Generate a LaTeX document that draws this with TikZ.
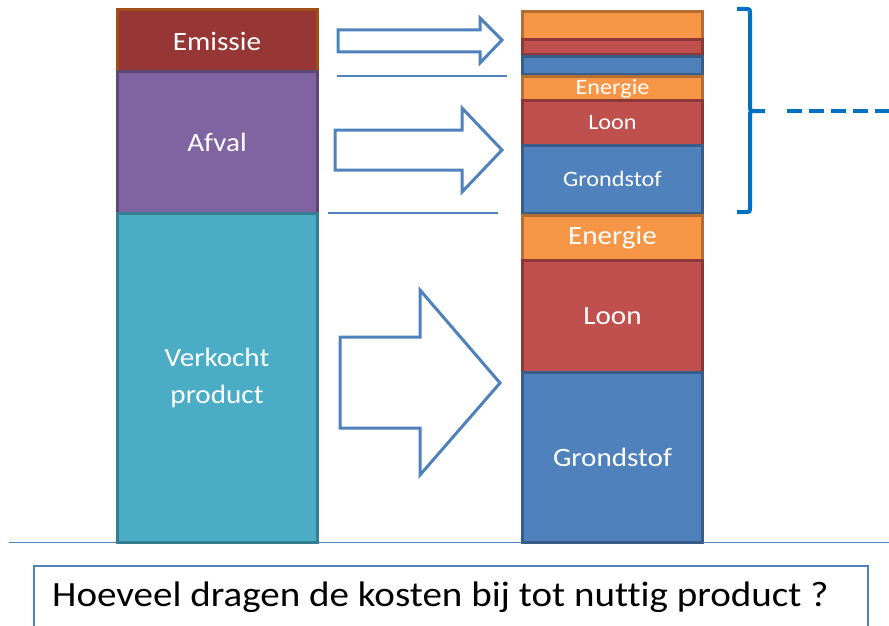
\documentclass[tikz,border=0pt]{standalone}
\usepackage{fontspec}
\setmainfont{Carlito}[FakeStretch=1.1, Ligatures=NoCommon]
\definecolor{emisred}{RGB}{150,55,53}
\definecolor{emisedge}{RGB}{160,78,22}
\definecolor{afvalpurple}{RGB}{128,100,162}
\definecolor{afvaledge}{RGB}{92,71,118}
\definecolor{verkochtcyan}{RGB}{75,172,198}
\definecolor{verkochtedge}{RGB}{53,125,145}
\definecolor{kostorange}{RGB}{247,150,70}
\definecolor{kostorangeedge}{RGB}{182,109,49}
\definecolor{kostred}{RGB}{192,80,77}
\definecolor{kostrededge}{RGB}{140,56,54}
\definecolor{kostblue}{RGB}{79,129,189}
\definecolor{kostblueedge}{RGB}{56,93,138}
\definecolor{bracecol}{RGB}{0,112,192}
\tikzset{
  blk/.style={draw, line width=3pt, text=white, inner sep=0pt, align=center},
  bigtxt/.style={font=\fontsize{26.5}{37}\selectfont},
  smalltxt/.style={font=\fontsize{22}{25}\selectfont},
  flowarrow/.style={draw=kostblue, line width=3pt, fill=white, line join=miter},
  sepline/.style={draw=kostblue, line width=1.5pt},
  bracepath/.style={draw=bracecol, line width=4pt}
}
\begin{document}
\begin{tikzpicture}[x=1pt, y=-1pt]
\useasboundingbox (0,0) rectangle (889,626);
% left column
\node[blk, bigtxt, fill=emisred, draw=emisedge, minimum width=200pt, minimum height=62pt] (emissie) at (217,41) {Emissie};
\node[blk, bigtxt, fill=afvalpurple, draw=afvaledge, minimum width=200pt, minimum height=141pt] (afval) at (217,142.5) {Afval};
\node[blk, bigtxt, fill=verkochtcyan, draw=verkochtedge, minimum width=200pt, minimum height=329pt] (verkocht) at (217,377.5) {Verkocht\\product};
% right column, top part
\node[blk, fill=kostorange, draw=kostorangeedge, minimum width=180pt, minimum height=28pt] (emisenergie) at (612.5,26) {};
\node[blk, fill=kostred, draw=kostrededge, minimum width=180pt, minimum height=15pt] (emisloon) at (612.5,47.5) {};
\node[blk, fill=kostblue, draw=kostblueedge, minimum width=180pt, minimum height=18pt] (afvalgrond) at (612.5,66) {};
\node[blk, smalltxt, fill=kostorange, draw=kostorangeedge, minimum width=180pt, minimum height=23pt] (afvalenergie) at (612.5,88.5) {Energie};
\node[blk, smalltxt, fill=kostred, draw=kostrededge, minimum width=180pt, minimum height=45pt] (afvalloon) at (612.5,122.5) {Loon};
\node[blk, smalltxt, fill=kostblue, draw=kostblueedge, minimum width=180pt, minimum height=68pt] (afvalgrondstof) at (612.5,179) {Grondstof};
% right column, bottom part
\node[blk, bigtxt, fill=kostorange, draw=kostorangeedge, minimum width=180pt, minimum height=45pt] (energie) at (612.5,237.5) {Energie};
\node[blk, bigtxt, fill=kostred, draw=kostrededge, minimum width=180pt, minimum height=112pt] (loon) at (612.5,316) {Loon};
\node[blk, bigtxt, fill=kostblue, draw=kostblueedge, minimum width=180pt, minimum height=170pt] (grondstof) at (612.5,457) {Grondstof};
% arrows
\draw[flowarrow] (338,30) -- (480,30) -- (480,18) -- (502,40) -- (480,63) -- (480,52) -- (338,52) -- cycle;
\draw[flowarrow] (335,130) -- (462,130) -- (462,108) -- (502,150) -- (462,192) -- (462,170) -- (335,170) -- cycle;
\draw[flowarrow] (340,337) -- (420,337) -- (420,290) -- (500,383) -- (420,475) -- (420,428) -- (340,428) -- cycle;
% separators
\draw[sepline] (337,76) -- (507,76);
\draw[sepline] (328,213) -- (498,213);
\draw[sepline] (9,542.5) -- (117,542.5);
\draw[sepline] (317,542.5) -- (522,542.5);
\draw[sepline] (703,542.5) -- (889,542.5);
% brace
\draw[bracepath] (737,9) -- (745,9) .. controls (750,9) .. (750,14) -- (750,106) .. controls (750,111) .. (756,111) -- (765,111);
\draw[bracepath] (756,111) .. controls (750,111) .. (750,116) -- (750,207) .. controls (750,212) .. (745,212) -- (737,212);
\draw[bracepath, dash pattern=on 15pt off 7pt] (787,111) -- (889,111);
% question
\node[draw=kostblue, line width=2pt, anchor=north west, minimum width=834pt, minimum height=100pt, inner sep=0pt] (vraagbox) at (33,565) {};
\node[anchor=base west, inner sep=0pt, font=\fontsize{35.5}{40}\selectfont] (vraag) at (52,606) {Hoeveel dragen de kosten bij tot nuttig product ?};
\end{tikzpicture}
\end{document}
